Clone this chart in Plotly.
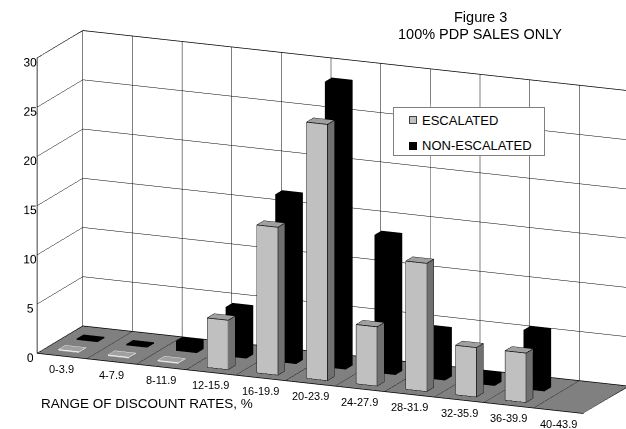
import math
import plotly.graph_objects as go

# Discount-rate buckets and number of sales in each, by contract type
categories = ["0-3.9", "4-7.9", "8-11.9", "12-15.9", "16-19.9", "20-23.9",
              "24-27.9", "28-31.9", "32-35.9", "36-39.9", "40-43.9"]
escalated = [0, 0, 0, 5, 15, 26, 6, 13, 5, 5, None]
non_escalated = [0, 0, 1, 5, 17, 29, 14, 5, 1, 6, None]
z_ticks = [0, 5, 10, 15, 20, 25, 30]

FONT = "Liberation Sans, Arial, sans-serif"
N = len(categories)
X_RANGE = [-0.5, N - 0.5]
Y_RANGE = [0, 1]
Z_RANGE = [0, 30]
HALF_W = 0.21
FLAT = 0.12  # thickness used to show a zero-height bar as a flat tile

# depth slot of each series inside the floor
ROWS = {"esc": (0.15, 0.30), "non": (0.55, 0.70)}


def box(xc, y0, y1, h):
    x0, x1 = xc - HALF_W, xc + HALF_W
    z1 = h if h > 0 else FLAT
    xs = [x0, x1, x1, x0, x0, x1, x1, x0]
    ys = [y0, y0, y1, y1, y0, y0, y1, y1]
    zs = [0, 0, 0, 0, z1, z1, z1, z1]
    return xs, ys, zs


# triangles of a box: bottom, top, front, back, left, right
TRI = [(0, 1, 2), (0, 2, 3), (4, 5, 6), (4, 6, 7), (0, 1, 5), (0, 5, 4),
       (3, 2, 6), (3, 6, 7), (0, 3, 7), (0, 7, 4), (1, 2, 6), (1, 6, 5)]


def series_mesh(values, row, front, side, top, name):
    X, Y, Z, I, J, K, C = [], [], [], [], [], [], []
    y0, y1 = ROWS[row]
    for idx, v in enumerate(values):
        if v is None:
            continue
        xs, ys, zs = box(idx, y0, y1, v)
        base = len(X)
        X += xs; Y += ys; Z += zs
        cols = [side, top, top, top, front, front, side, side, side, side, side, side]
        for t, c in zip(TRI, cols):
            I.append(base + t[0]); J.append(base + t[1]); K.append(base + t[2])
            C.append(c)
    return go.Mesh3d(x=X, y=Y, z=Z, i=I, j=J, k=K, facecolor=C, flatshading=True,
                     lighting=dict(ambient=1, diffuse=0, specular=0, fresnel=0, roughness=1),
                     hoverinfo="skip", showlegend=False, name=name)


def polyline(segments):
    lx, ly, lz = [], [], []
    for s in segments:
        for p in s:
            lx.append(p[0]); ly.append(p[1]); lz.append(p[2])
        lx.append(None); ly.append(None); lz.append(None)
    return lx, ly, lz


def bar_edges(values, row, zero):
    """Visible outline of each light bar; zero-height bars only show their top."""
    y0, y1 = ROWS[row]
    segs = []
    for idx, v in enumerate(values):
        if v is None or (v == 0) != zero:
            continue
        x0, x1 = idx - HALF_W, idx + HALF_W
        z1 = v if v > 0 else FLAT
        if zero:
            segs.append([(x0, y0, z1), (x1, y0, z1), (x1, y1, z1), (x0, y1, z1), (x0, y0, z1)])
        else:
            segs += [
                [(x0, y0, 0), (x1, y0, 0), (x1, y0, z1), (x0, y0, z1), (x0, y0, 0)],
                [(x0, y0, z1), (x0, y1, z1), (x1, y1, z1), (x1, y0, z1)],
                [(x1, y1, z1), (x1, y1, 0), (x1, y0, 0)],
            ]
    return polyline(segs)


fig = go.Figure()
fig.add_trace(series_mesh(non_escalated, "non", "#000000", "#000000", "#000000", "NON-ESCALATED"))
fig.add_trace(series_mesh(escalated, "esc", "#c0c0c0", "#707070", "#a0a0a0", "ESCALATED"))

for zero, col in [(False, "black"), (True, "white")]:
    ex, ey, ez = bar_edges(escalated, "esc", zero)
    fig.add_trace(go.Scatter3d(x=ex, y=ey, z=ez, mode="lines",
                               line=dict(color=col, width=1.5),
                               hoverinfo="skip", showlegend=False))

# outline of floor and walls
xa, xb = X_RANGE
ya, yb = Y_RANGE
za, zb = Z_RANGE
fx, fy, fz = polyline([
    [(xa, ya, za), (xb, ya, za), (xb, yb, za), (xa, yb, za), (xa, ya, za)],
    [(xa, ya, za), (xa, ya, zb), (xa, yb, zb), (xb, yb, zb), (xb, yb, za)],
    [(xa, yb, za), (xa, yb, zb)],
])
fig.add_trace(go.Scatter3d(x=fx, y=fy, z=fz, mode="lines",
                           line=dict(color="black", width=1.5),
                           hoverinfo="skip", showlegend=False))

common = dict(title=dict(text=""), showspikes=False, zeroline=False,
              gridcolor="black", gridwidth=1, showline=False, ticks="")

scene_ann = [dict(x=i, y=0, z=0, text=c, showarrow=False, yshift=-13,
                  font=dict(family=FONT, size=11, color="black"))
             for i, c in enumerate(categories)]

# camera: azimuth / elevation of the view, and a small pan of the view target
AZ, EL, DIST = math.radians(23.2), math.radians(14.9), 1.6
right = (math.cos(AZ), math.sin(AZ), 0.0)
up = (-math.sin(AZ) * math.sin(EL), math.cos(AZ) * math.sin(EL), math.cos(EL))
PAN_RIGHT, PAN_DOWN, PX_PER_UNIT = 20, 7.5, 214.0
pan = [(-PAN_RIGHT * r + PAN_DOWN * u) / PX_PER_UNIT for r, u in zip(right, up)]
view = (math.sin(AZ) * math.cos(EL), -math.cos(AZ) * math.cos(EL), math.sin(EL))
center = dict(x=pan[0], y=pan[1], z=pan[2])
eye = dict(x=pan[0] + DIST * view[0], y=pan[1] + DIST * view[1],
           z=pan[2] + DIST * view[2])


def legend_text(y, text):
    return dict(x=420 / 626, y=1 - y / 429, xref="paper", yref="paper",
                xanchor="left", yanchor="middle", text=text, showarrow=False,
                font=dict(family=FONT, size=13))


def legend_swatch(y, fill, edge):
    return dict(x=409 / 626, y=1 - y / 429, xref="paper", yref="paper",
                xanchor="left", yanchor="middle", text=" ", showarrow=False,
                width=6, height=6, bgcolor=fill, bordercolor=edge,
                borderwidth=1, borderpad=0, font=dict(size=4))


fig.update_layout(
    width=626, height=429,
    margin=dict(l=0, r=0, t=0, b=0),
    paper_bgcolor="white",
    font=dict(family=FONT, color="black"),
    hovermode=False,
    scene=dict(
        domain=dict(x=[0, 1], y=[0, 1]),
        xaxis=dict(range=X_RANGE, tickvals=[i + 0.5 for i in range(N - 1)],
                   showticklabels=False, showbackground=True,
                   backgroundcolor="white", **common),
        yaxis=dict(range=Y_RANGE, showgrid=False, showticklabels=False,
                   showbackground=True, backgroundcolor="white", **common),
        zaxis=dict(range=Z_RANGE, tickvals=z_ticks, showticklabels=True,
                   tickangle=0,
                   tickfont=dict(family=FONT, size=12, color="black"),
                   showbackground=True, backgroundcolor="#808080", **common),
        aspectmode="manual",
        aspectratio=dict(x=2.77, y=0.54, z=1.425),
        camera=dict(eye=eye, center=center, up=dict(x=0, y=0, z=1),
                    projection=dict(type="orthographic")),
        annotations=scene_ann,
    ),
    annotations=[
        dict(x=480 / 626, y=1 - 17 / 429, xref="paper", yref="paper",
             text="Figure 3", showarrow=False, xanchor="center", yanchor="middle",
             font=dict(family=FONT, size=14.5)),
        dict(x=480 / 626, y=1 - 34 / 429, xref="paper", yref="paper",
             text="100% PDP SALES ONLY", showarrow=False, xanchor="center",
             yanchor="middle", font=dict(family=FONT, size=14.5)),
        dict(x=39 / 626, y=1 - 403 / 429, xref="paper", yref="paper",
             text="RANGE OF DISCOUNT RATES, %", showarrow=False,
             xanchor="left", yanchor="middle",
             font=dict(family=FONT, size=13.5)),
        # legend frame and entries
        dict(x=393 / 626, y=1 - 107 / 429, xref="paper", yref="paper",
             xanchor="left", yanchor="top", text=" ", showarrow=False,
             width=150, height=47, bgcolor="white", bordercolor="#808080",
             borderwidth=1, borderpad=0),
        legend_swatch(120.5, "#c0c0c0", "#404040"),
        legend_text(120.5, "ESCALATED"),
        legend_swatch(145.5, "#000000", "#000000"),
        legend_text(145.5, "NON-ESCALATED"),
    ],
)

fig.write_html("out.html")
